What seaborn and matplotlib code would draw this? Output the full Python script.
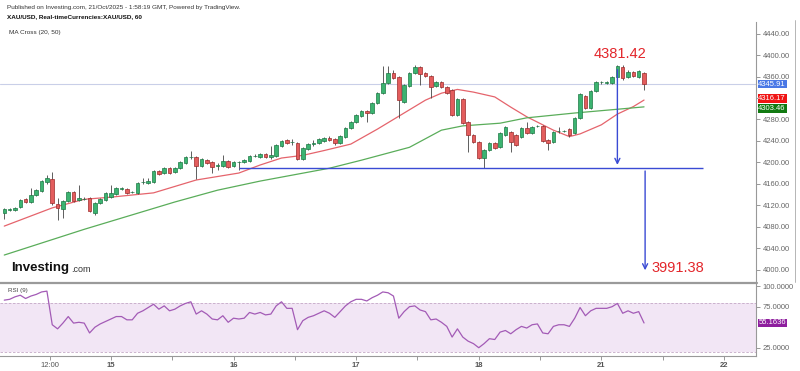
import numpy as np
import pandas as pd
import seaborn as sns
import matplotlib.pyplot as plt
from matplotlib.lines import Line2D

# hourly candles XAU/USD
opens = [4105, 4111, 4111, 4117, 4131, 4126, 4139, 4147, 4163, 4169,
         4122, 4113, 4128, 4145, 4130, 4131, 4133, 4105, 4124, 4130,
         4135, 4141, 4150, 4150, 4144, 4143, 4163, 4161, 4163, 4184,
         4180, 4189, 4182, 4189, 4199, 4209, 4210, 4193, 4204, 4201,
         4193, 4193, 4202, 4193, 4200, 4201, 4202, 4211, 4210, 4215,
         4210, 4212, 4230, 4242, 4237, 4236, 4206, 4225, 4235, 4236,
         4240, 4245, 4243, 4236, 4247, 4264, 4275, 4286, 4296, 4292,
         4311, 4329, 4348, 4367, 4359, 4313, 4342, 4367, 4378, 4367,
         4361, 4342, 4350, 4340, 4335, 4288, 4318, 4275, 4251, 4238,
         4208, 4223, 4236, 4228, 4251, 4257, 4251, 4247, 4264, 4255,
         4267, 4268, 4242, 4238, 4258, 4258, 4262, 4255, 4283, 4323,
         4301, 4333, 4349, 4348, 4348, 4359, 4378, 4359, 4368, 4359,
         4367]
highs = [4115, 4114, 4116, 4131, 4133, 4152, 4150, 4167, 4176, 4182,
         4133, 4130, 4147, 4147, 4158, 4135, 4136, 4126, 4134, 4145,
         4158, 4154, 4154, 4152, 4147, 4163, 4171, 4171, 4186, 4186,
         4191, 4191, 4191, 4203, 4212, 4221, 4212, 4208, 4206, 4203,
         4199, 4214, 4204, 4203, 4203, 4206, 4214, 4215, 4217, 4217,
         4230, 4234, 4242, 4244, 4243, 4238, 4229, 4236, 4241, 4245,
         4248, 4249, 4245, 4251, 4266, 4277, 4290, 4298, 4298, 4313,
         4331, 4380, 4380, 4372, 4361, 4346, 4369, 4381, 4380, 4369,
         4363, 4352, 4352, 4342, 4337, 4320, 4320, 4277, 4253, 4240,
         4225, 4238, 4238, 4257, 4268, 4259, 4253, 4266, 4275, 4268,
         4270, 4270, 4244, 4259, 4266, 4261, 4264, 4285, 4329, 4325,
         4335, 4352, 4352, 4351, 4361, 4381.42, 4381, 4372, 4370, 4372,
         4369]
lows = [4094, 4110, 4109, 4115, 4124, 4125, 4137, 4145, 4160, 4120,
        4092, 4096, 4126, 4126, 4128, 4129, 4107, 4102, 4122, 4128,
        4133, 4139, 4148, 4140, 4142, 4141, 4160, 4159, 4161, 4176,
        4178, 4178, 4180, 4187, 4197, 4207, 4169, 4191, 4197, 4180,
        4186, 4191, 4189, 4191, 4186, 4199, 4200, 4209, 4208, 4208,
        4206, 4210, 4228, 4234, 4232, 4204, 4204, 4223, 4230, 4234,
        4238, 4240, 4232, 4234, 4245, 4262, 4273, 4284, 4275, 4290,
        4309, 4327, 4346, 4355, 4283, 4311, 4340, 4364, 4344, 4359,
        4320, 4340, 4338, 4327, 4286, 4286, 4271, 4219, 4236, 4206,
        4189, 4221, 4225, 4226, 4249, 4219, 4230, 4245, 4253, 4253,
        4265, 4238, 4223, 4236, 4255, 4256, 4247, 4253, 4281, 4299,
        4299, 4331, 4347, 4346, 4346, 4357, 4353, 4357, 4359, 4357,
        4335]
closes = [4113, 4113, 4115, 4130, 4126, 4139, 4148, 4165, 4171, 4124,
          4115, 4128, 4145, 4128, 4133, 4132, 4109, 4124, 4132, 4143,
          4143, 4152, 4151, 4143, 4145, 4161, 4164, 4165, 4184, 4178,
          4189, 4180, 4189, 4201, 4210, 4210, 4193, 4206, 4199, 4191,
          4194, 4202, 4191, 4201, 4201, 4204, 4212, 4212, 4215, 4210,
          4214, 4232, 4240, 4236, 4238, 4206, 4227, 4234, 4236, 4243,
          4245, 4242, 4236, 4249, 4264, 4275, 4288, 4296, 4292, 4311,
          4329, 4348, 4367, 4357, 4316, 4344, 4367, 4378, 4365, 4361,
          4340, 4350, 4340, 4329, 4288, 4318, 4273, 4251, 4238, 4208,
          4223, 4236, 4227, 4255, 4266, 4238, 4232, 4264, 4255, 4266,
          4268, 4240, 4236, 4257, 4259, 4259, 4251, 4283, 4327, 4301,
          4333, 4350, 4350, 4349, 4359, 4380, 4357, 4368, 4361, 4370,
          4345.91]

# moving averages (bar index, value)
ma20_idx = [0, 9, 15, 20, 28, 31, 36, 44, 48, 52, 56, 60, 65, 70, 73, 76, 79,
            82, 85, 88, 92, 95, 98, 103, 106, 108, 112, 115, 118, 120]
ma20_val = [4081, 4115, 4131, 4135, 4143, 4152, 4167, 4180, 4195, 4208, 4213,
            4222, 4234, 4262, 4280, 4298, 4316, 4329, 4336, 4331, 4322, 4303,
            4285, 4260, 4248, 4253, 4270, 4290, 4304, 4316.17]
ma50_idx = [0, 15, 24, 32, 40, 48, 61, 67, 76, 82, 86, 93, 98, 107, 115, 120]
ma50_val = [4027, 4075, 4102, 4126, 4148, 4165, 4189, 4204, 4228, 4260, 4268,
            4273, 4283, 4292, 4299, 4303.46]

rsi = [83, 84, 87, 89, 85, 88, 90, 93, 94, 53, 48, 55, 63, 55, 56, 55, 43, 50,
       54, 57, 60, 63, 63, 59, 59, 67, 70, 74, 78, 72, 76, 70, 72, 76, 79, 81,
       66, 70, 66, 60, 59, 64, 56, 61, 60, 61, 68, 66, 68, 65, 66, 76, 81, 73,
       73, 47, 58, 62, 64, 67, 70, 67, 62, 69, 76, 81, 84, 84, 82, 86, 89, 93,
       92, 88, 61, 69, 75, 76, 71, 69, 59, 60, 56, 51, 38, 48, 38, 33, 30, 25,
       30, 36, 35, 44, 46, 42, 47, 51, 49, 53, 54, 43, 42, 51, 53, 53, 51, 61,
       74, 64, 70, 73, 73, 73, 75, 79, 67, 70, 67, 69, 55.1636]

price_ticks = [4000, 4040, 4080, 4120, 4160, 4200, 4240, 4280, 4320, 4360, 4400, 4440]
day_pos = [8.5, 20, 43, 66, 89, 112, 135]
day_labels = ['12:00', '15', '16', '17', '18', '21', '22']
half_pos = [31.5, 54.5, 77.5, 100.5, 123.5]

support = 4189
swing_high = 4381.42
target = 3991.38
last_price = 4345.91
ma20_last = 4316.17
ma50_last = 4303.46

sns.set_theme(style='white')
plt.rcParams['font.family'] = ['Liberation Sans', 'DejaVu Sans']

df = pd.DataFrame({'open': opens, 'high': highs, 'low': lows, 'close': closes})
df['i'] = np.arange(len(df))
up = df.close >= df.open

W, H = 800, 371
fig = plt.figure(figsize=(8, 3.71), dpi=100)
ax = fig.add_axes([0, 1 - 282 / H, 756 / W, 260 / H])
ax2 = fig.add_axes([0, 1 - 356 / H, 756 / W, 73 / H])

green, green_e = '#3cb371', '#1d7a45'
red, red_e = '#e35d5d', '#9c2b2b'
blue = '#3a4bd4'

# candles
ax.vlines(df.i, df.low, df.high, color='#444444', lw=0.6, zorder=3)
body_h = np.maximum((df.close - df.open).abs(), 1.2)
body_b = np.minimum(df.open, df.close)
ax.bar(df.i, body_h, bottom=body_b, width=0.66,
       color=np.where(up, green, red), edgecolor=np.where(up, green_e, red_e),
       linewidth=0.5, zorder=4)

sns.lineplot(x=ma20_idx, y=ma20_val, ax=ax, color='#e5646c', lw=0.9, zorder=2)
sns.lineplot(x=ma50_idx, y=ma50_val, ax=ax, color='#5aad5a', lw=0.9, zorder=2)

ax.axhline(last_price, color='#c9cfe8', lw=0.8, zorder=1)
ax.hlines(support, 44, 131, color=blue, lw=1, zorder=5)
ax.annotate('', xy=(115, support + 1), xytext=(115, 4378),
            arrowprops=dict(arrowstyle='->', color=blue, lw=1, mutation_scale=9), zorder=5)
ax.annotate('', xy=(120.2, target + 2), xytext=(120.2, support),
            arrowprops=dict(arrowstyle='->', color=blue, lw=1, mutation_scale=9), zorder=5)
ax.text(115.5, 4402, f'{swing_high:.2f}', color='#e3262b', fontsize=10.5,
        ha='center', va='center')
ax.text(121.4, 4002.5, f'{target:.2f}', color='#e3262b', fontsize=10.5,
        ha='left', va='center')

ax.set_xlim(-0.8, 141)
ax.set_ylim(3976.7, 4461.8)
ax.set_xlabel('')
ax.set_ylabel('')
ax.yaxis.tick_right()
ax.set_yticks(price_ticks)
# 4320 sits under the MA price tags on the original, so its label is hidden
ax.set_yticklabels(['' if t == 4320 else f'{t:.2f}' for t in price_ticks])
ax.tick_params(axis='y', right=True, length=3, width=0.6, color='#888888',
               labelsize=5.5, labelcolor='#666666', pad=2)
ax.set_xticks([])
for s in ['top', 'left', 'bottom']:
    ax.spines[s].set_visible(False)
ax.spines['right'].set_color('#999999')
ax.spines['right'].set_linewidth(0.8)

# price tags on the right axis; the two MA tags are nudged apart like the platform does
ytr = ax.get_yaxis_transform()
tags = [(last_price, last_price, '#4a78e6'),
        (ma20_last, ma20_last + 3, '#f01414'),
        (ma50_last, ma50_last - 3.5, '#117a11')]
for val, pos, col in tags:
    ax.text(1.003, pos, f'{val:.2f}', transform=ytr, color='white', fontsize=5.5,
            ha='left', va='center', clip_on=False,
            bbox=dict(boxstyle='square,pad=0.1', fc=col, ec='none'))

# RSI panel
ax2.axhspan(20, 80, color='#f2e6f5', lw=0, zorder=0)
ax2.axhline(80, ls=(0, (3, 2)), color='#c4a8c6', lw=0.6)
ax2.axhline(20, ls=(0, (3, 2)), color='#c4a8c6', lw=0.6)
sns.lineplot(x=df.i, y=rsi, ax=ax2, color='#a35bb6', lw=0.9)
ax2.set_xlim(-0.8, 141)
ax2.set_ylim(14.9, 103.9)
ax2.set_xlabel('')
ax2.set_ylabel('')
ax2.yaxis.tick_right()
ax2.set_yticks([25, 75, 100])
ax2.set_yticklabels(['25.0000', '75.0000', '100.0000'])
ax2.tick_params(axis='y', right=True, length=3, width=0.6, color='#888888',
                labelsize=5.5, labelcolor='#666666', pad=2)
ax2.set_xticks(day_pos)
ax2.set_xticklabels(day_labels)
ax2.set_xticks(half_pos, minor=True)
ax2.tick_params(axis='x', which='both', bottom=True, length=3, width=0.6,
                color='#888888', labelsize=5.5, labelcolor='#555555', pad=1.5)
for lbl in ax2.get_xticklabels()[1:]:
    lbl.set_fontweight('bold')
for s in ['top', 'left']:
    ax2.spines[s].set_visible(False)
for s in ['right', 'bottom']:
    ax2.spines[s].set_color('#999999')
    ax2.spines[s].set_linewidth(0.8)
ax2.text(1.003, rsi[-1], f'{rsi[-1]:.4f}', transform=ax2.get_yaxis_transform(),
         color='white', fontsize=5.5, ha='left', va='center', clip_on=False,
         bbox=dict(boxstyle='square,pad=0.1', fc='#8e1e9e', ec='none'))
ax2.text(0.01, 0.93, 'RSI (9)', transform=ax2.transAxes, fontsize=4.5,
         color='#444444', va='top')

# separator and border
fig.add_artist(Line2D([0, 757 / W], [1 - 282.5 / H] * 2, color='#9a9a9a', lw=1.6))
fig.add_artist(Line2D([795 / W] * 2, [1 - 20 / H, 1 - 282 / H], color='#aaaaaa', lw=0.6))

# header
fig.text(7 / W, 1 - 7 / H,
         'Published on Investing.com, 21/Oct/2025 - 1:58:19 GMT, Powered by TradingView.',
         fontsize=4.6, color='#333333', va='center')
fig.text(7 / W, 1 - 16.5 / H, 'XAU/USD, Real-timeCurrencies:XAU/USD, 60',
         fontsize=4.6, color='#111111', fontweight='bold', va='center')
fig.text(9 / W, 1 - 32.5 / H, 'MA Cross (20, 50)', fontsize=4.6, color='#333333',
         va='center')

# logo
fig.text(11 / W, 1 - 268 / H, 'Investing', fontsize=9.5, fontweight='bold',
         color='#111111', va='center')
fig.text(71 / W, 1 - 269.5 / H, '.com', fontsize=6.5, color='#333333', va='center')

fig.savefig('out.png', dpi=100)
